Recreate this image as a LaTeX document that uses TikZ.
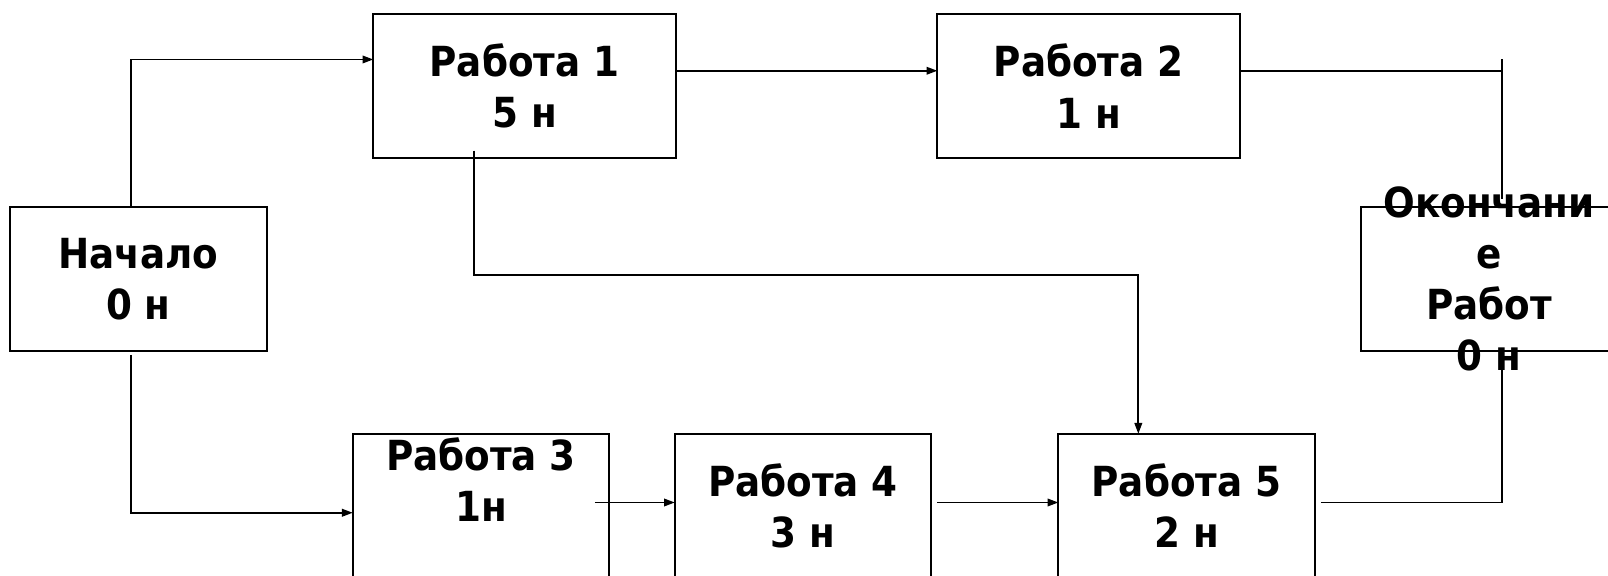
\documentclass[tikz,border=0pt]{standalone}
\usepackage{fontspec}
\setmainfont{DejaVu Sans Condensed}[BoldFont={DejaVu Sans Condensed Bold}]
\usetikzlibrary{arrows.meta,calc}
\begin{document}
\begin{tikzpicture}[x=0.02cm,y=0.02cm,
  txt/.style={inner sep=0pt,outer sep=0pt,align=center,
    font=\fontsize{23}{28.4}\selectfont\bfseries},
  box/.style={txt,draw,line width=1pt,minimum width=5cm,minimum height=2.8cm},
  widebox/.style={box,minimum width=5.9cm},
  link/.style={line width=1pt},
  arr/.style={link,-{Triangle[length=6pt,width=4.2pt]}}]
\useasboundingbox (0,0) rectangle (1568,561);
\clip (0,0) rectangle (1568,561);

% activities
\node[box]     (start) at (135,289)    {Начало\\0 н};
\node[widebox] (w1)    at (511.5,477)  {Работа 1\\5 н};
\node[widebox] (w2)    at (1061.5,477) {Работа 2\\1 н};
\node[box]     (w3)    at (469,68)     {Работа 3\\1н\\~};
\node[box]     (w4)    at (783,68)     {Работа 4\\3 н};
\node[box]     (w5)    at (1157,68)    {Работа 5\\2 н};
\node[box]     (fin)   at (1452,289)   {};

% dependencies
\draw[arr] ($(start.north)+(-7,0)$) |- ($(w1.west)+(0,26)$);
\draw[arr] ($(start.south)+(-7,-4)$) |- ($(w3.west)+(0,-7)$);
\draw[arr] ($(w1.east)+(0,15)$) -- ($(w2.west)+(0,15)$);
\draw[link] ($(w2.east)+(0,15)$) -- ($(w2.east)+(256,15)$);
\draw[link] ($(fin.north)+(13,144)$) -- ($(fin.north)+(13,8)$);
\draw[arr] ($(w1.south)+(-49.5,7)$) |- ($(w5.north)+(-47,155)$) -- ($(w5.north)+(-47,0)$);
\draw[arr] ($(w3.east)+(-14,3)$) -- ($(w4.west)+(0,3)$);
\draw[arr] ($(w4.east)+(6,3)$) -- ($(w5.west)+(0,3)$);
\draw[link] ($(w5.east)+(6,3)$) -| ($(fin.south)+(13,-12)$);

% the end node's caption runs over its frame
\node[txt] (finlabel) at (fin.center) {Окончани\\е\\Работ\\0 н};
\end{tikzpicture}
\end{document}
